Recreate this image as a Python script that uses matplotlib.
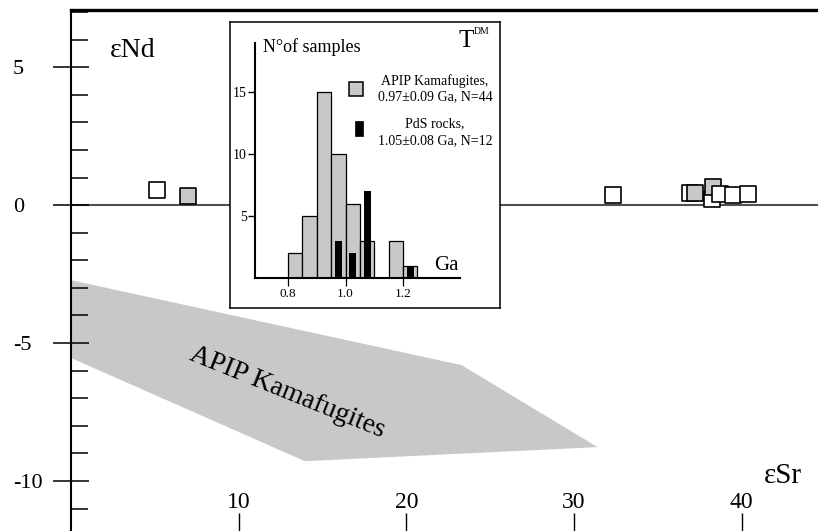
import matplotlib.pyplot as plt
from matplotlib.patches import Rectangle

plt.rcParams['font.family'] = ['Liberation Serif', 'DejaVu Serif']

# main diagram: eSr vs eNd
samples_sr = [5.1, 7.0, 32.3, 36.9, 37.2, 38.2, 38.3, 38.7, 39.5, 40.4]
samples_nd = [0.54, 0.33, 0.36, 0.43, 0.43, 0.22, 0.65, 0.40, 0.36, 0.40]
samples_grp = ['PdS', 'APIP', 'PdS', 'PdS', 'APIP', 'PdS', 'APIP', 'PdS', 'PdS', 'PdS']

field_sr = [0, 23.3, 31.4, 13.95, 0]
field_nd = [-2.72, -5.80, -8.77, -9.28, -5.54]

# inset histogram of T_DM ages
apip_bins = [0.80, 0.85, 0.90, 0.95, 1.00, 1.05, 1.10, 1.15, 1.20]
apip_counts = [2, 5, 15, 10, 6, 3, 0, 3, 1]
pds_ages = [0.975, 1.025, 1.075, 1.225]
pds_counts = [3, 2, 7, 1]

GRAY = '#c8c8c8'
W, H = 818, 531

fig = plt.figure(figsize=(W / 100, H / 100), dpi=100)
ax = fig.add_axes([71 / W, 0, 1 - 71 / W, 1 - 10 / H])
ax.set_xlim(0, 44.55)
ax.set_ylim(-11.81, 7.07)
ax.spines['right'].set_visible(False)
ax.spines['bottom'].set_visible(False)
ax.spines['top'].set_linewidth(2.4)
ax.spines['left'].set_linewidth(1.5)

ax.fill(field_sr, field_nd, color=GRAY, lw=0, zorder=0)
ax.axhline(0, color='#505050', lw=1.5, zorder=1)
ax.text(12.9, -6.8, 'APIP Kamafugites', fontsize=20, rotation=-22,
        ha='center', va='center', rotation_mode='anchor', zorder=2)

for sr, nd, g in zip(samples_sr, samples_nd, samples_grp):
    ax.scatter(sr, nd, marker='s', s=121, linewidths=1.2, edgecolors='black',
               facecolors=GRAY if g == 'APIP' else 'white', zorder=3)

ax.set_yticks([-10, -5, 0, 5])
ax.set_yticklabels(['-10', '-5', '0', '5'])
for t in ax.get_yticklabels():
    t.set_horizontalalignment('left')
ax.set_yticks([v for v in range(-11, 8) if v % 5 != 0], minor=True)
ax.tick_params(axis='y', which='major', direction='inout', length=26.6,
               width=1.1, pad=28.5, labelsize=16)
ax.tick_params(axis='y', which='minor', direction='in', length=12.5, width=1.1)
ax.set_xticks([10, 20, 30, 40])
ax.tick_params(axis='x', direction='in', length=13, width=1, pad=-28, labelsize=17)

ax.text(2.3, 5.6, 'εNd', fontsize=20, ha='left', va='center')
ax.text(41.3, -9.82, 'εSr', fontsize=21, ha='left', va='center')

# inset frame
box = fig.add_axes([230 / W, (H - 308) / H, 270 / W, 286 / H])
box.set_xticks([])
box.set_yticks([])
for s in box.spines.values():
    s.set_linewidth(1.1)
box.set_facecolor('white')

box.text(0.122, 0.913, 'N°of samples', fontsize=13, ha='left', va='center')
box.text(0.874, 0.9336, 'T', fontsize=18, ha='center', va='center')
box.text(0.93, 0.9685, 'DM', fontsize=7, ha='center', va='center')
box.add_patch(Rectangle((0.441, 0.7415), 0.052, 0.049, transform=box.transAxes,
                        facecolor=GRAY, edgecolor='black', lw=1.1))
box.add_patch(Rectangle((0.463, 0.603), 0.0296, 0.052, transform=box.transAxes,
                        facecolor='black', edgecolor='black', lw=0.5))
box.text(0.759, 0.794, 'APIP Kamafugites,', fontsize=10, ha='center', va='center')
box.text(0.759, 0.738, '0.97±0.09 Ga, N=44', fontsize=10, ha='center', va='center')
box.text(0.759, 0.643, 'PdS rocks,', fontsize=10, ha='center', va='center')
box.text(0.759, 0.584, '1.05±0.08 Ga, N=12', fontsize=10, ha='center', va='center')
box.text(0.80, 0.147, 'Ga', fontsize=15, ha='center', va='center')

hx = fig.add_axes([255 / W, (H - 278) / H, 205 / W, 235 / H])
hx.patch.set_alpha(0)
hx.set_xlim(0.685, 1.398)
hx.set_ylim(0, 19)
hx.spines['top'].set_visible(False)
hx.spines['right'].set_visible(False)
hx.spines['left'].set_linewidth(1.5)
hx.spines['bottom'].set_linewidth(1.5)
hx.bar(apip_bins, apip_counts, width=0.05, align='edge', color=GRAY,
       edgecolor='black', lw=0.9)
hx.bar(pds_ages, pds_counts, width=0.025, color='black')
hx.set_xticks([0.8, 1.0, 1.2])
hx.set_xticklabels(['0.8', '1.0', '1.2'])
hx.set_yticks([5, 10, 15])
hx.tick_params(axis='x', direction='out', length=6, width=0.9, labelsize=9.5, pad=1)
hx.tick_params(axis='y', direction='out', length=5, width=1, labelsize=10, pad=1)

fig.savefig('out.png', dpi=100)
